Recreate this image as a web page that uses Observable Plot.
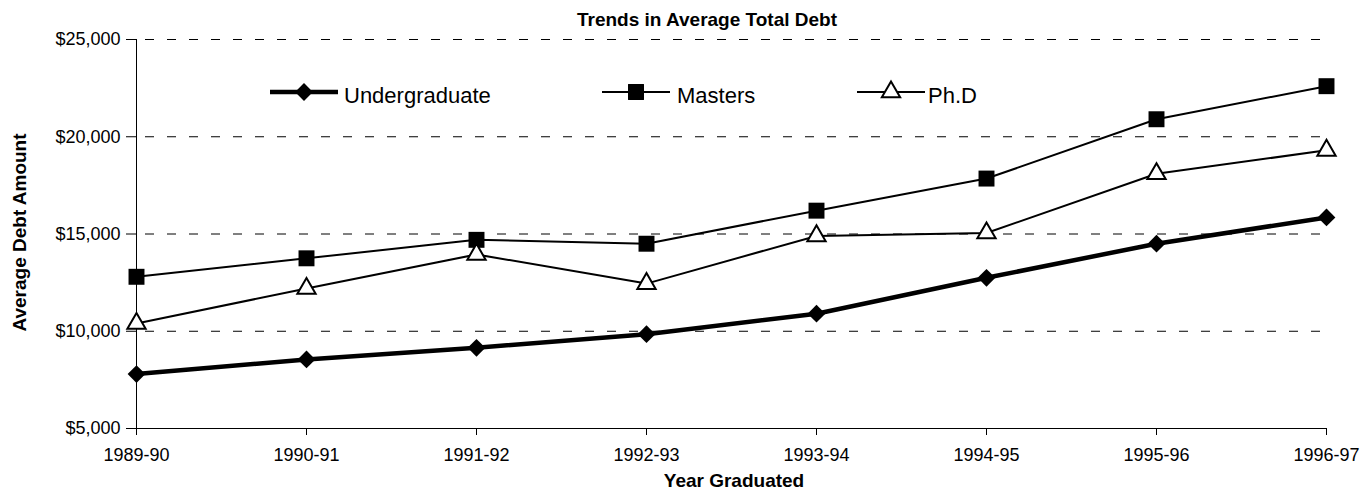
<!DOCTYPE html>
<html>
<head>
<meta charset="utf-8">
<script src="https://cdn.jsdelivr.net/npm/d3@7"></script>
<script src="https://cdn.jsdelivr.net/npm/@observablehq/plot@0.6"></script>
<style>
  html, body { margin: 0; padding: 0; background: #fff; }
  #wrap { position: relative; width: 1364px; height: 491px; font-family: "Liberation Sans", Arial, sans-serif; color: #000; }
  .ov { position: absolute; white-space: nowrap; }
  .bold { font-weight: bold; font-size: 19px; line-height: 19px; }
  .leg { font-size: 22px; line-height: 22px; }
</style>
</head>
<body>
<div id="wrap"></div>
<script>
const years = ["1989-90","1990-91","1991-92","1992-93","1993-94","1994-95","1995-96","1996-97"];
const undergrad = [7800, 8550, 9150, 9850, 10900, 12750, 14500, 15850];
const masters   = [12800, 13750, 14700, 14500, 16200, 17850, 20900, 22600];
const phd       = [10400, 12200, 13950, 12450, 14900, 15050, 18100, 19300];
const yTicks = [5000, 10000, 15000, 20000, 25000];
const seriesNames = ["Undergraduate", "Masters", "Ph.D"];
const titleText = "Trends in Average Total Debt";
const xLabel = "Year Graduated";
const yLabel = "Average Debt Amount";

const rows = vals => years.map((y, i) => ({year: y, value: vals[i]}));
const U = rows(undergrad), M = rows(masters), P = rows(phd);

const sym = {
  u: {symbol: "diamond2", r: 8, fill: "#000", stroke: "none", sw: 0, line: 4.5},
  m: {symbol: "square", r: 9, fill: "#000", stroke: "none", sw: 0, line: 2},
  p: {symbol: "triangle", r: 6.8, fill: "#fff", stroke: "#000", sw: 2, line: 2}
};

const chart = Plot.plot({
  width: 1364, height: 491,
  marginLeft: 136, marginRight: 38, marginTop: 39, marginBottom: 63,
  style: {fontFamily: "'Liberation Sans', Arial, sans-serif", fontSize: "18px", color: "#000", background: "transparent", overflow: "visible"},
  x: {type: "point", domain: years, padding: 0},
  y: {domain: [5000, 25000]},
  marks: [
    Plot.gridY(yTicks.filter(t => t > 5000), {stroke: "#000", strokeOpacity: 1, strokeWidth: 1, strokeDasharray: "9,13", strokeDashoffset: 13}),
    Plot.axisY(yTicks, {tickFormat: d => "$" + d3.format(",")(d), tickSize: 10, tickPadding: 6, label: null, fontSize: 18}),
    Plot.axisX({tickSize: 7, tickPadding: 13, label: null, fontSize: 18}),
    Plot.ruleY([5000], {stroke: "#000"}),
    Plot.ruleX([years[0]], {stroke: "#000"}),
    Plot.line(P, {x: "year", y: "value", stroke: "#000", strokeWidth: sym.p.line}),
    Plot.line(M, {x: "year", y: "value", stroke: "#000", strokeWidth: sym.m.line}),
    Plot.line(U, {x: "year", y: "value", stroke: "#000", strokeWidth: sym.u.line}),
    Plot.dot(U, {x: "year", y: "value", symbol: sym.u.symbol, r: sym.u.r, fill: sym.u.fill, stroke: sym.u.stroke}),
    Plot.dot(M, {x: "year", y: "value", symbol: sym.m.symbol, r: sym.m.r, fill: sym.m.fill, stroke: sym.m.stroke}),
    Plot.dot(P, {x: "year", y: "value", symbol: sym.p.symbol, r: sym.p.r, fill: sym.p.fill, stroke: sym.p.stroke, strokeWidth: sym.p.sw})
  ]
});

const wrap = document.getElementById("wrap");
wrap.appendChild(chart);

function addText(text, cls, css) {
  const d = document.createElement("div");
  d.className = "ov " + cls;
  d.textContent = text;
  Object.assign(d.style, css);
  wrap.appendChild(d);
  return d;
}
// title
addText(titleText, "bold", {left: "507px", width: "400px", textAlign: "center", top: "10px"});
// x label
addText(xLabel, "bold", {left: "534px", width: "400px", textAlign: "center", top: "471px"});
// y label (rotated)
addText(yLabel, "bold", {left: (19 - 150) + "px", width: "300px", textAlign: "center", top: (232 - 9.5) + "px", height: "19px", transform: "rotate(-90deg)", transformOrigin: "50% 50%"});

// legend
const d3sym = {diamond2: d3.symbolDiamond2, square: d3.symbolSquare, triangle: d3.symbolTriangle};
const legendItems = [
  {name: seriesNames[0], s: sym.u, cx: 304, tx: 344},
  {name: seriesNames[1], s: sym.m, cx: 636, tx: 677},
  {name: seriesNames[2], s: sym.p, cx: 891, tx: 928}
];
legendItems.forEach(it => {
  const w = 68, h = 30;
  const svg = d3.create("svg").attr("width", w).attr("height", h)
    .style("position", "absolute").style("left", (it.cx - w / 2) + "px").style("top", (92 - h / 2) + "px").style("overflow", "visible");
  svg.append("line").attr("x1", 0).attr("x2", w).attr("y1", h / 2).attr("y2", h / 2)
    .attr("stroke", "#000").attr("stroke-width", it.s.line);
  svg.append("path").attr("transform", `translate(${w / 2},${h / 2})`)
    .attr("d", d3.symbol(d3sym[it.s.symbol], it.s.r * it.s.r * Math.PI)())
    .attr("fill", it.s.fill).attr("stroke", it.s.stroke).attr("stroke-width", it.s.sw);
  wrap.appendChild(svg.node());
  addText(it.name, "leg", {left: it.tx + "px", top: "84.7px"});
});
</script>
</body>
</html>
